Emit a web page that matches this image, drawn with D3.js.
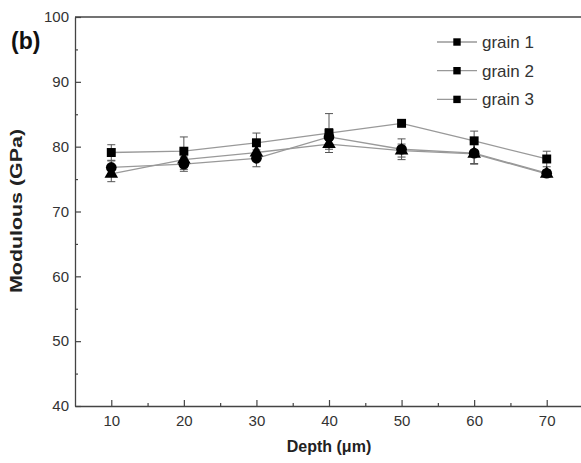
<!DOCTYPE html>
<html>
<head>
<meta charset="utf-8">
<script src="https://cdnjs.cloudflare.com/ajax/libs/d3/7.8.5/d3.min.js"></script>
<style>
  body { margin: 0; background: #fff; }
  svg { font-family: "Liberation Sans", Arial, sans-serif; }
</style>
</head>
<body>
<div id="chart"></div>
<script>
// data
let depth = [10, 20, 30, 40, 50, 60, 70];
let grain1 = [79.1, 79.3, 80.6, 82.1, 83.6, 80.9, 78.1];   // squares
let grain1Err = [1.2, 2.2, 1.5, 3.0, 0.4, 1.5, 1.2];
let grain2 = [76.8, 77.3, 78.2, 81.5, 79.6, 79.0, 75.9];   // circles
let grain2Err = [1.0, 1.1, 1.3, 1.3, 1.6, 1.7, 0.5];
let grain3 = [75.8, 78.0, 79.1, 80.4, 79.4, 78.9, 75.8];   // triangles
let grain3Err = [1.2, 1.5, 1.0, 0.8, 1.0, 1.5, 0.5];
let legendNames = ["grain 1", "grain 2", "grain 3"];
let xTicks = [10, 20, 30, 40, 50, 60, 70];
let yTicks = [40, 50, 60, 70, 80, 90, 100];

let w = 581;
let h = 463;

let svg = d3.select("#chart").append("svg")
  .attr("width", w)
  .attr("height", h);

let x = d3.scaleLinear().domain([5, 75]).range([75, 583]);
let y = d3.scaleLinear().domain([40, 100]).range([406, 17]);

// frame (top and left, right side runs off the image)
svg.append("line").attr("x1", 75).attr("x2", 583).attr("y1", 17).attr("y2", 17)
  .attr("stroke", "#444").attr("stroke-width", 1.3);

// x axis
svg.append("g").attr("transform", "translate(0,406)")
  .call(d3.axisBottom(x).tickValues(xTicks).tickSize(-6).tickPadding(9).tickSizeOuter(0));
svg.append("g").attr("transform", "translate(0,406)")
  .call(d3.axisBottom(x).tickValues(d3.range(15, 75, 10)).tickSize(-3).tickFormat("").tickSizeOuter(0))
  .select(".domain").remove();

// y axis
svg.append("g").attr("transform", "translate(75,0)")
  .call(d3.axisLeft(y).tickValues(yTicks).tickSize(-6).tickPadding(6).tickSizeOuter(0));
svg.append("g").attr("transform", "translate(75,0)")
  .call(d3.axisLeft(y).tickValues(d3.range(45, 100, 10)).tickSize(-3).tickFormat("").tickSizeOuter(0))
  .select(".domain").remove();

svg.selectAll(".domain").attr("stroke", "#444").attr("stroke-width", 1.3);
svg.selectAll(".tick line").attr("stroke", "#444").attr("stroke-width", 1.2);
svg.selectAll(".tick text").attr("font-size", 15).attr("fill", "#333")
  .attr("font-family", "Liberation Sans, Arial, sans-serif");

// titles
svg.append("text").attr("x", 329).attr("y", 452).attr("text-anchor", "middle")
  .attr("font-size", 16).attr("font-weight", "bold").attr("fill", "#222")
  .text("Depth (\u03bcm)");
svg.append("text").attr("transform", "translate(22,211) rotate(-90)").attr("text-anchor", "middle")
  .attr("font-size", 16).attr("font-weight", "bold").attr("fill", "#222")
  .attr("textLength", 164).attr("lengthAdjust", "spacingAndGlyphs")
  .text("Modulous (GPa)");
svg.append("text").attr("x", 11).attr("y", 49)
  .attr("font-size", 23).attr("font-weight", "bold").attr("fill", "#111")
  .text("(b)");

let series = [
  {vals: grain1, err: grain1Err, sym: d3.symbolSquare, size: 80},
  {vals: grain2, err: grain2Err, sym: d3.symbolCircle, size: 90},
  {vals: grain3, err: grain3Err, sym: d3.symbolTriangle, size: 80}
];

let line = d3.line().x(function(d, i){ return x(depth[i]); }).y(function(d){ return y(d); });

// lines
series.forEach(function(s){
  svg.append("path").datum(s.vals)
    .attr("d", line)
    .attr("fill", "none")
    .attr("stroke", "#999")
    .attr("stroke-width", 1.3);
});

// error bars
series.forEach(function(s){
  let g = svg.append("g").attr("stroke", "#555").attr("stroke-width", 1);
  s.vals.forEach(function(v, i){
    let cx = x(depth[i]);
    let top = y(v + s.err[i]);
    let bot = y(v - s.err[i]);
    g.append("line").attr("x1", cx).attr("x2", cx).attr("y1", top).attr("y2", bot);
    g.append("line").attr("x1", cx - 4).attr("x2", cx + 4).attr("y1", top).attr("y2", top);
    g.append("line").attr("x1", cx - 4).attr("x2", cx + 4).attr("y1", bot).attr("y2", bot);
  });
});

// markers
series.forEach(function(s){
  svg.selectAll(null).data(s.vals).enter()
    .append("path")
    .attr("d", d3.symbol().type(s.sym).size(s.size))
    .attr("transform", function(d, i){ return "translate(" + x(depth[i]) + "," + y(d) + ")"; })
    .attr("fill", "#000");
});

// legend
let legend = svg.selectAll(".legend").data(legendNames).enter()
  .append("g").attr("class", "legend")
  .attr("transform", function(d, i){ return "translate(0," + (42 + i * 28.7) + ")"; });
legend.append("line").attr("x1", 437).attr("x2", 477).attr("y1", 0).attr("y2", 0)
  .attr("stroke", "#999").attr("stroke-width", 1.3);
legend.append("path").attr("d", d3.symbol().type(d3.symbolSquare).size(55))
  .attr("transform", "translate(457,0)").attr("fill", "#000");
legend.append("text").attr("x", 482).attr("y", 6)
  .attr("font-size", 17).attr("fill", "#333")
  .text(function(d){ return d; });
</script>
</body>
</html>
